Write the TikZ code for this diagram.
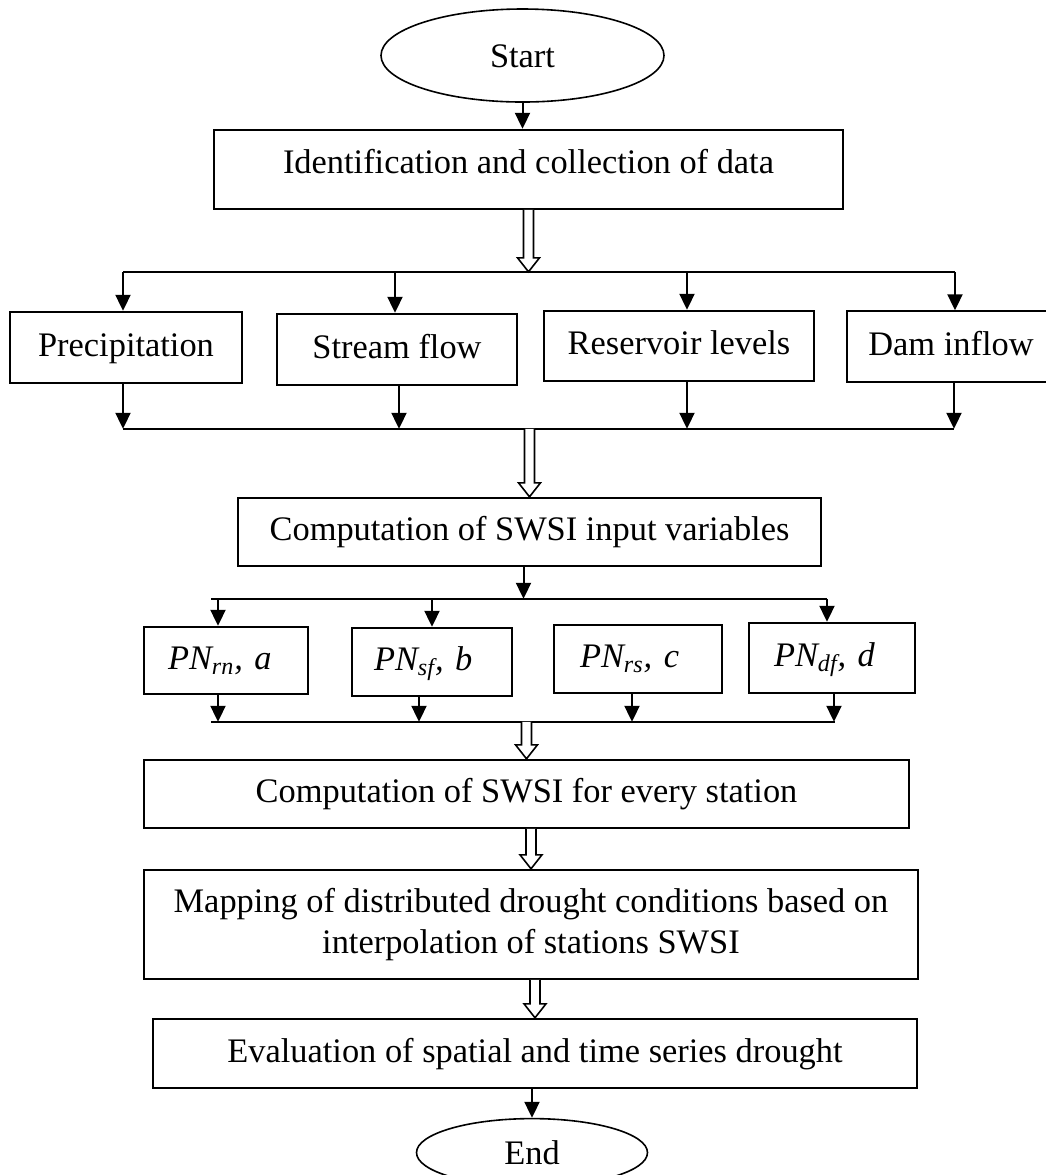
\documentclass[tikz,border=0pt]{standalone}
\usepackage{fontspec}
\setmainfont{Liberation Serif}
\usetikzlibrary{shapes.geometric, arrows.meta, positioning, calc}
\tikzstyle{arrow} = [line width=1pt, -{Triangle[length=8pt,width=7.5pt]}]
\tikzstyle{wire} = [line width=1pt]
\tikzstyle{block} = [rectangle, draw, line width=1pt, align=center, inner sep=2pt, text height=13pt, text depth=4pt, font=\fontsize{17.2}{20.6}\selectfont]
\tikzstyle{pnbox} = [block, text width=58pt, align=left, inner xsep=11pt]
\tikzstyle{term} = [ellipse, draw, line width=0.8pt, inner sep=0pt, text height=11.5pt, text depth=0pt, font=\fontsize{17.2}{20.6}\selectfont]
\tikzstyle{hollow} = [draw, fill=white, line width=0.8pt]
% open double arrow between two points
\newcommand{\hollowarrow}[2]{%
  \draw[hollow] let \p1=(#1), \p2=(#2) in
    (\x2-2.5pt,\y1) -- (\x2-2.5pt,\y2+7pt) -- (\x2-5.5pt,\y2+7pt) -- (\x2,\y2)
    -- (\x2+5.5pt,\y2+7pt) -- (\x2+2.5pt,\y2+7pt) -- (\x2+2.5pt,\y1);}

\begin{document}
\begin{tikzpicture}
    \useasboundingbox (0,0) rectangle (523pt,-587.5pt);
    \node (start) [term, minimum width=141.5pt, minimum height=46.5pt] at (261.25pt,-27.75pt) {Start};
    \node (ident) [block, text depth=8.5pt, minimum width=314.5pt, minimum height=39.5pt, below=13pt of start, xshift=3pt] {Identification and collection of data};
    \coordinate [below=31pt of ident] (split1);

    % data sources
    \node (prec) [block, minimum width=116pt, minimum height=35.5pt, below=19.5pt of split1, xshift=-201.25pt] {Precipitation};
    \node (stream) [block, minimum width=120pt, minimum height=35.5pt, right=16.5pt of prec, yshift=-1pt] {Stream flow};
    \node (reserv) [block, minimum width=135pt, minimum height=35pt, right=12.5pt of stream, yshift=1.75pt] {Reservoir levels};
    \node (dam) [block, minimum width=104pt, minimum height=35.5pt, right=15.5pt of reserv, yshift=-0.5pt] {Dam inflow};
    \coordinate [below=78.5pt of split1] (merge1);

    \node (comp) [block, minimum width=291.5pt, minimum height=34pt, below=34pt of merge1, xshift=0.5pt] {Computation of SWSI input variables};
    \coordinate [below=16pt of comp] (split2);

    % input variables
    \node (pna) [pnbox, minimum width=82pt, minimum height=33.5pt, below=13.5pt of split2, xshift=-151.75pt] {\textit{PN\textsubscript{rn}, a}};
    \node (pnb) [pnbox, minimum width=80pt, minimum height=34pt, right=21pt of pna, yshift=-0.75pt] {\textit{PN\textsubscript{sf}, b}};
    \node (pnc) [pnbox, minimum width=84pt, minimum height=34pt, right=20pt of pnb, yshift=1.5pt] {\textit{PN\textsubscript{rs}, c}};
    \node (pnd) [pnbox, minimum width=83pt, minimum height=35pt, right=12.5pt of pnc, yshift=0.5pt] {\textit{PN\textsubscript{df}, d}};
    \coordinate [below=61.5pt of split2] (merge2);

    \node (station) [block, minimum width=382.5pt, minimum height=34pt, below=18.5pt of merge2, xshift=-1.5pt] {Computation of SWSI for every station};
    \node (mapping) [block, text height=, text depth=, minimum width=387pt, minimum height=54.5pt, below=20pt of station, xshift=2.25pt] {Mapping of distributed drought conditions based on\\interpolation of stations SWSI};
    \node (eval) [block, minimum width=382pt, minimum height=34.5pt, below=19pt of mapping, xshift=2pt] {Evaluation of spatial and time series drought};
    \node (stop) [term, minimum width=115.5pt, minimum height=34pt, below=14.5pt of eval, xshift=-1.5pt] {End};

    \draw [arrow] (start.south) -- (start.south |- ident.north);
    \hollowarrow{ident.south}{split1}

    \draw [wire] ($(prec.north |- split1)+(-1.5pt,0)$) -- ($(dam.north |- split1)+(2pt,0)$);
    \draw [arrow] ($(prec.north |- split1)+(-1.5pt,0)$) -- ($(prec.north)+(-1.5pt,0)$);
    \draw [arrow] ($(stream.north |- split1)+(-1pt,0)$) -- ($(stream.north)+(-1pt,0)$);
    \draw [arrow] ($(reserv.north |- split1)+(4pt,0)$) -- ($(reserv.north)+(4pt,0)$);
    \draw [arrow] ($(dam.north |- split1)+(2pt,0)$) -- ($(dam.north)+(2pt,0)$);

    \draw [wire] ($(prec.south |- merge1)+(-1.5pt,0)$) -- ($(dam.south |- merge1)+(1.5pt,0)$);
    \draw [arrow] ($(prec.south)+(-1.5pt,0)$) -- ($(prec.south |- merge1)+(-1.5pt,0)$);
    \draw [arrow] ($(stream.south)+(1pt,0)$) -- ($(stream.south |- merge1)+(1pt,0)$);
    \draw [arrow] ($(reserv.south)+(4pt,0)$) -- ($(reserv.south |- merge1)+(4pt,0)$);
    \draw [arrow] ($(dam.south)+(1.5pt,0)$) -- ($(dam.south |- merge1)+(1.5pt,0)$);
    \hollowarrow{merge1}{comp.north}

    \draw [arrow] ($(comp.south)+(-3pt,0)$) -- ($(comp.south |- split2)+(-3pt,0)$);
    \draw [wire] ($(pna.north |- split2)+(-7.5pt,0)$) -- ($(pnd.north |- split2)+(-2.5pt,0)$);
    \draw [arrow] ($(pna.north |- split2)+(-4pt,0)$) -- ($(pna.north)+(-4pt,0)$);
    \draw [arrow] (pnb.north |- split2) -- (pnb.north);
    \draw [arrow] ($(pnd.north |- split2)+(-2.5pt,0)$) -- ($(pnd.north)+(-2.5pt,0)$);

    \draw [wire] ($(pna.south |- merge2)+(-7.5pt,0)$) -- ($(pnd.south |- merge2)+(1.5pt,0)$);
    \draw [arrow] ($(pna.south)+(-4pt,0)$) -- ($(pna.south |- merge2)+(-4pt,0)$);
    \draw [arrow] ($(pnb.south)+(-6.5pt,0)$) -- ($(pnb.south |- merge2)+(-6.5pt,0)$);
    \draw [arrow] ($(pnc.south)+(-3pt,0)$) -- ($(pnc.south |- merge2)+(-3pt,0)$);
    \draw [arrow] ($(pnd.south)+(1pt,0)$) -- ($(pnd.south |- merge2)+(1pt,0)$);

    \hollowarrow{merge2}{station.north}
    \hollowarrow{station.south}{mapping.north}
    \hollowarrow{mapping.south}{eval.north}
    \draw [arrow] (stop.north |- eval.south) -- (stop.north);
\end{tikzpicture}
\end{document}
